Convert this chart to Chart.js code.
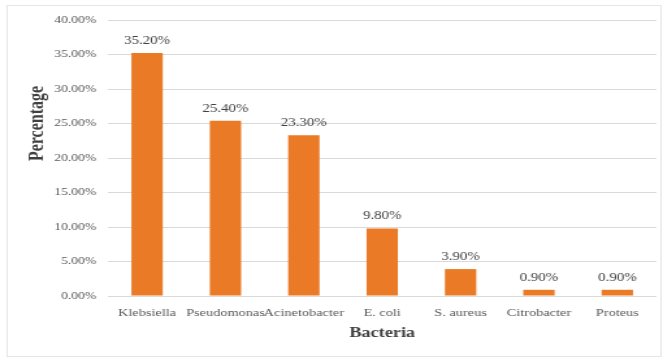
<!DOCTYPE html>
<html lang="en">
<head>
    <meta charset="UTF-8">
    <title>Bacteria</title>
    <script src="https://cdn.jsdelivr.net/npm/chart.js"></script>
    <style>
        body {
            margin: 0;
            background: #fff;
            overflow: hidden;
        }
        /* the chart is laid out narrow and widened, like the original Excel export */
        #wrap {
            width: 513px;
            height: 361px;
            transform: scaleX(1.3);
            transform-origin: 0 0;
        }
    </style>
</head>
<body>
<div id="wrap">
    <canvas id="bacteriaChart" width="513" height="361"></canvas>
</div>
<script>
    // bacteria and their share (percent)
    const bacteria = ['Klebsiella', 'Pseudomonas', 'Acinetobacter', 'E. coli', 'S. aureus', 'Citrobacter', 'Proteus'];
    const percentages = [35.20, 25.40, 23.30, 9.80, 3.90, 0.90, 0.90];

    const SERIF = "'Liberation Serif', 'Times New Roman', serif";

    // white background + light frame round the whole chart
    const framePlugin = {
        id: 'frame',
        beforeDraw(chart) {
            const ctx = chart.ctx;
            ctx.save();
            ctx.fillStyle = '#fff';
            ctx.fillRect(0, 0, chart.width, chart.height);
            ctx.strokeStyle = '#e6e6e6';
            ctx.lineWidth = 1;
            ctx.strokeRect(5.5, 5.5, 503, 351);
            ctx.restore();
        }
    };

    // value label above each bar, plus the y axis title (sits high, as in Excel)
    const valueLabels = {
        id: 'valueLabels',
        afterDatasetsDraw(chart) {
            const ctx = chart.ctx;
            const area = chart.chartArea;
            const meta = chart.getDatasetMeta(0);
            ctx.save();
            ctx.font = '11.5px ' + SERIF;
            ctx.fillStyle = '#404040';
            ctx.textAlign = 'center';
            ctx.textBaseline = 'middle';
            meta.data.forEach((bar, i) => {
                ctx.fillText(percentages[i].toFixed(2) + '%', bar.x, bar.y - 12);
            });

            ctx.translate(29, area.top + (area.bottom - area.top) * 0.375);
            ctx.rotate(-Math.PI / 2);
            ctx.font = 'bold 16px ' + SERIF;
            ctx.fillStyle = '#404040';
            ctx.fillText('Percentage', 0, 0);
            ctx.restore();
        }
    };

    new Chart(document.getElementById('bacteriaChart'), {
        type: 'bar',
        data: {
            labels: bacteria,
            datasets: [{
                data: percentages,
                backgroundColor: '#EB7A26',
                barPercentage: 0.40,
                categoryPercentage: 1.0
            }]
        },
        options: {
            responsive: false,
            animation: false,
            layout: {
                padding: { left: 0, right: 8, top: 20, bottom: 14 }
            },
            plugins: {
                legend: { display: false },
                tooltip: { enabled: false }
            },
            scales: {
                x: {
                    grid: { display: false, drawTicks: false },
                    border: { display: false },
                    afterFit: s => { s.height = 51; },
                    ticks: {
                        padding: 11,
                        color: '#595959',
                        font: { family: SERIF, size: 11 },
                        maxRotation: 0,
                        autoSkip: false
                    },
                    title: {
                        display: true,
                        text: 'Bacteria',
                        color: '#404040',
                        font: { family: SERIF, size: 14, weight: 'bold' },
                        padding: { top: 0, bottom: 5 }
                    }
                },
                y: {
                    min: 0,
                    max: 40,
                    grid: { color: '#d9d9d9', drawTicks: false },
                    border: { display: false },
                    afterFit: s => { s.width = 83; },
                    ticks: {
                        stepSize: 5,
                        padding: 9,
                        color: '#595959',
                        font: { family: SERIF, size: 10.5 },
                        callback: v => v.toFixed(2) + '%'
                    }
                }
            }
        },
        plugins: [framePlugin, valueLabels]
    });
</script>
</body>
</html>
